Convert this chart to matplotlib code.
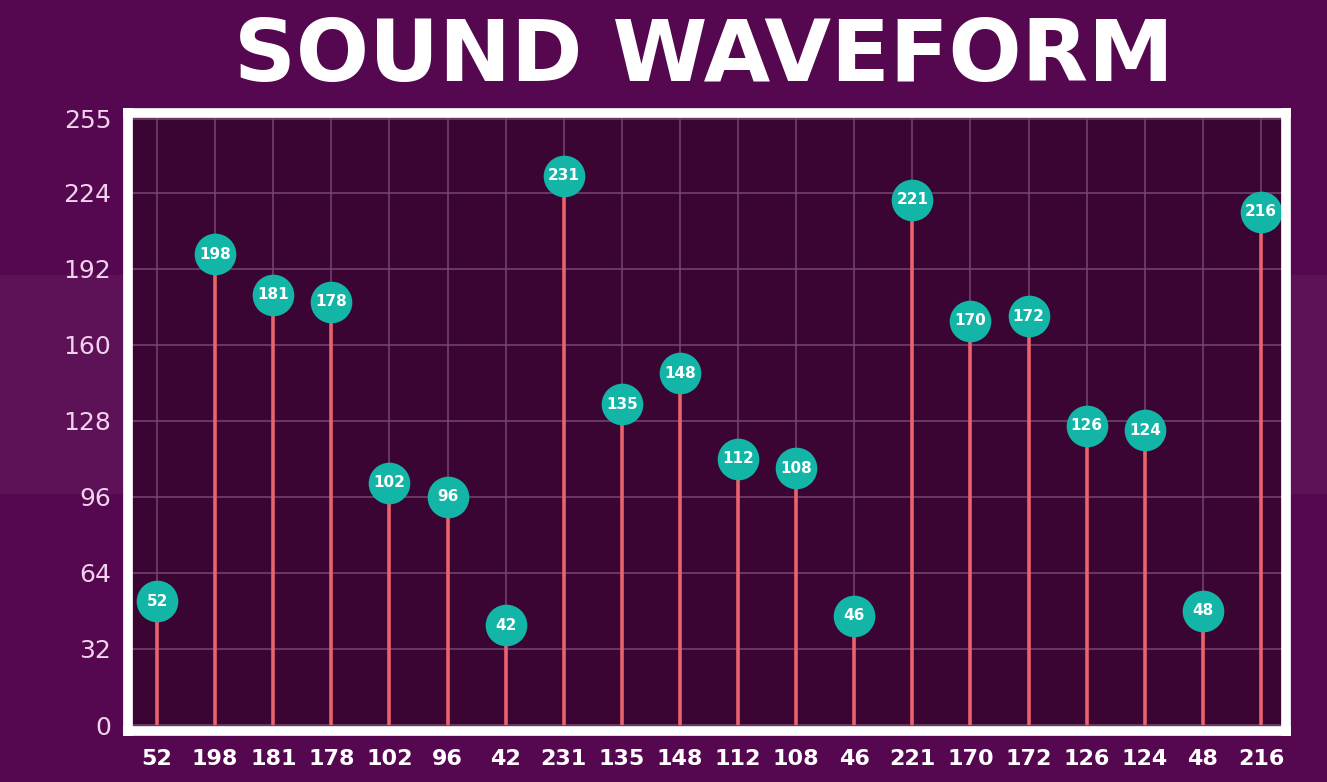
import numpy as np
import matplotlib.pyplot as plt
from matplotlib.patches import Rectangle

# sample values of the waveform (one per stem)
samples = [52, 198, 181, 178, 102, 96, 42, 231, 135, 148,
           112, 108, 46, 221, 170, 172, 126, 124, 48, 216]
y_ticks = [0, 32, 64, 96, 128, 160, 192, 224, 255]
title = "SOUND WAVEFORM"

BG = '#55074f'
BAND = '#5d1157'
PLOT_BG = '#3a0532'
GRID = '#774672'
STEM = '#e8636b'
DOT = '#13b5a7'

W, H = 1327, 782
fig = plt.figure(figsize=(W / 100, H / 100), dpi=100, facecolor=BG)

# lighter horizontal band in the background
fig.patches.append(Rectangle((0, 1 - 493 / H), 1, (493 - 275) / H,
                             transform=fig.transFigure, color=BAND, zorder=-10))

left, right, top, bottom = 128, 1286, 113, 731
ax = fig.add_axes([left / W, 1 - bottom / H, (right - left) / W, (bottom - top) / H])
ax.set_facecolor(PLOT_BG)

x = np.arange(len(samples))
ax.set_xlim(-0.5, len(samples) - 1 + 0.43)
ax.set_ylim(-2.5, 257.5)

ax.set_xticks(x)
ax.set_xticklabels([str(v) for v in samples])
ax.set_yticks(y_ticks)
ax.set_yticklabels([str(v) for v in y_ticks])
ax.grid(True, color=GRID, lw=1.1)
ax.set_axisbelow(True)
ax.tick_params(length=0)
ax.tick_params(axis='y', pad=12, labelsize=18, labelcolor='#f1d3ee')
ax.tick_params(axis='x', pad=13, labelsize=16, labelcolor='white')
for lb in ax.get_xticklabels():
    lb.set_fontweight('bold')

for s in ax.spines.values():
    s.set_color('white')
    s.set_linewidth(7)
    s.set_zorder(5)

ax.vlines(x, 0, samples, color=STEM, lw=2.6, zorder=2)
ax.plot(x, samples, 'o', ms=30, color=DOT, mec='none', zorder=3)
for xi, v in zip(x, samples):
    ax.text(xi, v, str(v), ha='center', va='center', color='white',
            fontsize=11, fontweight='bold', zorder=4)

fig.text(704 / W, 1 - 57 / H, title, ha='center', va='center',
         color='white', fontsize=62, fontweight='bold')

fig.savefig('out.png', dpi=100, facecolor=BG)
